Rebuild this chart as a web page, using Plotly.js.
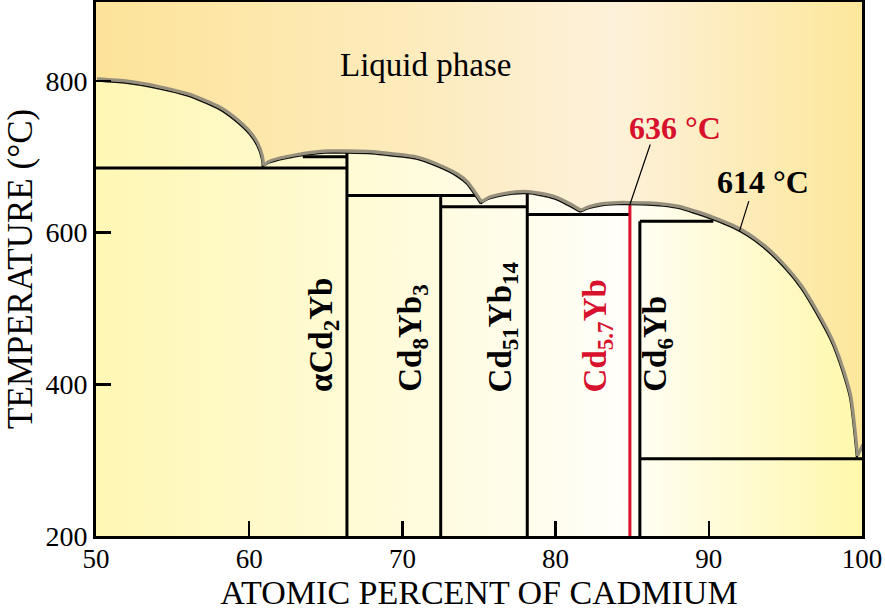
<!DOCTYPE html>
<html>
<head>
<meta charset="utf-8">
<script src="https://cdn.plot.ly/plotly-3.0.1.min.js"></script>
<style>html,body{margin:0;padding:0;background:#fff;}#chart{width:885px;height:611px;}</style>
</head>
<body>
<div id="chart"></div>
<script>
// ---------- data ----------
const xTicks = [50, 60, 70, 80, 90, 100];
const yTicks = [200, 400, 600, 800];
const xRange = [50, 100];
const yRange = [200, 904];

// liquidus curve (atomic % Cd, temperature °C)
const liqX = [50, 52, 54, 56, 58, 59, 60, 60.5, 60.8, 60.87, 61.2, 62, 63, 64, 65, 66.38,
              68, 69.2, 70.9, 72.4, 73.5, 74.2, 74.6, 75.1,
              75.6, 76.5, 77.3, 78.15, 79, 80, 80.8, 81.25, 81.6,
              82.2, 83, 84, 84.85, 86, 87, 88, 89, 90.3, 91.5, 92.5, 93.7, 95, 96, 97, 98, 98.7, 99.2, 99.65, 100];
const liqT = [800, 797, 790, 780, 763, 749, 730, 715, 698, 686, 691, 696, 700, 703, 705, 705,
              704, 701.5, 697, 686, 675, 664, 653, 638,
              644, 648.5, 651, 651.5, 649, 644, 636, 631, 627,
              632, 635.5, 637, 637, 636.5, 635, 632, 626, 617, 607, 596, 578, 552, 527, 494, 456, 418, 382, 303, 318];

// compounds (vertical lines): composition and top temperature
const compoundNames = ['αCd<sub>2</sub>Yb', 'Cd<sub>8</sub>Yb<sub>3</sub>', 'Cd<sub>51</sub>Yb<sub>14</sub>', 'Cd<sub>5.7</sub>Yb', 'Cd<sub>6</sub>Yb'];
const compoundX = [66.38, 72.5, 78.15, 84.85, 85.5];
const compoundTop = [705, 649, 651.5, 637, 615];
const compoundHighlight = [false, false, false, true, false];

// horizontal isotherms
const isoT  = [685, 700, 649, 634, 624, 615, 302];
const isoX0 = [50, 63.5, 66.38, 72.5, 78.15, 85.5, 85.5];
const isoX1 = [66.38, 66.38, 74.75, 78.15, 84.85, 90.3, 100];

// callouts
const calloutText = ['636 °C', '614 °C'];
const calloutX = [84.85, 92.0];
const calloutT = [637, 602];

// ---------- styling / layout ----------
const FONT = 'Liberation Serif, Times New Roman, serif';
const RED = '#d8112d';
const M = {l: 96, r: 23, t: 2, b: 75};
const plotW = 885 - M.l - M.r, plotH = 611 - M.t - M.b;
const pxPerX = plotW / (xRange[1] - xRange[0]);
const pxPerY = plotH / (yRange[1] - yRange[0]);
const shadowDx = 1.0, shadowDy = 2.0;

// split the liquidus into domes at the eutectic minima so cusps stay sharp
const segX = [], segT = [];
liqX.forEach((x, i) => {
  segX.push(x); segT.push(liqT[i]);
  const isMin = i > 0 && i < liqX.length - 1 && liqT[i] < liqT[i - 1] && liqT[i] < liqT[i + 1];
  if (isMin) { segX.push(null, x); segT.push(null, liqT[i]); }
});

const traces = [];
// liquid background
traces.push({
  x: xRange, y: [yRange[1], yRange[1]], mode: 'none', fill: 'tozeroy',
  fillgradient: {type: 'horizontal', start: xRange[0], stop: xRange[1],
    colorscale: [[0, '#fde399'], [0.4, '#fdebbb'], [0.68, '#fdf1da'], [1, '#fde79b']]},
  hoverinfo: 'skip', showlegend: false
});
// solid region under liquidus
traces.push({
  x: liqX, y: liqT, mode: 'none', fill: 'tozeroy',
  fillgradient: {type: 'horizontal', start: xRange[0], stop: xRange[1],
    colorscale: [[0, '#fff7b4'], [0.35, '#fffbd6'], [0.68, '#fffef8'], [1, '#fff8ac']]},
  hoverinfo: 'skip', showlegend: false
});
// liquidus shadow (drawn on offset overlay axes)
traces.push({
  x: segX, y: segT, mode: 'lines', xaxis: 'x2', yaxis: 'y2', connectgaps: false,
  line: {color: '#958f7c', width: 3.2, shape: 'spline', smoothing: 0.7},
  hoverinfo: 'skip', showlegend: false
});
// isotherms
const hx = [], hy = [];
isoT.forEach((t, i) => { hx.push(isoX0[i], isoX1[i], null); hy.push(t, t, null); });
traces.push({x: hx, y: hy, mode: 'lines', line: {color: '#000', width: 3}, hoverinfo: 'skip', showlegend: false});
// compound verticals
compoundX.forEach((cx, i) => {
  traces.push({
    x: [cx, cx], y: [yRange[0], compoundTop[i]], mode: 'lines',
    line: {color: compoundHighlight[i] ? RED : '#000', width: 3},
    hoverinfo: 'skip', showlegend: false
  });
});
// liquidus line
traces.push({
  x: segX, y: segT, mode: 'lines', connectgaps: false,
  line: {color: '#111', width: 1.6, shape: 'spline', smoothing: 0.7},
  hoverinfo: 'skip', showlegend: false
});

// annotations
const labelX = [64.8, 70.7, 76.55, 82.75, 86.66];
const labelBottom = 387;
const annotations = compoundNames.map((name, i) => ({
  x: labelX[i], y: labelBottom, xref: 'x', yref: 'y', text: '<b>' + name + '</b>',
  textangle: -90, showarrow: false, xanchor: 'center', yanchor: 'bottom',
  font: {family: FONT, size: 33, color: compoundHighlight[i] ? RED : '#000'}
}));
annotations.push({
  x: 71.5, y: 821, xref: 'x', yref: 'y', text: 'Liquid phase', showarrow: false,
  font: {family: FONT, size: 33, color: '#000'}
});
const calloutPos = [[87.8, 738], [93.55, 667]];
const calloutTail = [[21, -62], [10, -32]];
calloutText.forEach((t, i) => {
  annotations.push({
    x: calloutPos[i][0], y: calloutPos[i][1], xref: 'x', yref: 'y', text: '<b>' + t + '</b>',
    showarrow: false, font: {family: FONT, size: 32, color: i === 0 ? RED : '#000'}
  });
  annotations.push({
    x: calloutX[i], y: calloutT[i], xref: 'x', yref: 'y', text: ' ', font: {size: 1},
    showarrow: true, arrowhead: 0, arrowwidth: 1.2, arrowcolor: '#000', standoff: 0,
    ax: calloutTail[i][0], ay: calloutTail[i][1]
  });
});

const axisCommon = {
  ticks: 'inside', ticklen: 15, tickwidth: 2.5, tickcolor: '#000',
  showline: true, linewidth: 3, linecolor: '#000', mirror: true,
  showgrid: false, zeroline: false,
  tickfont: {family: FONT, size: 28, color: '#000'}
};

const layout = {
  width: 885, height: 611, margin: M,
  paper_bgcolor: '#fff', plot_bgcolor: '#fff',
  font: {family: FONT, color: '#000'},
  xaxis: Object.assign({}, axisCommon, {
    range: xRange, tickvals: xTicks, ticktext: xTicks.map(String),
    tickfont: {family: FONT, size: 27, color: '#000'}, ticklabelstandoff: -3,
    title: {text: 'ATOMIC PERCENT OF CADMIUM', font: {family: FONT, size: 34, color: '#000'}}
  }),
  yaxis: Object.assign({}, axisCommon, {
    range: yRange, tickvals: yTicks, ticktext: yTicks.map(String),
    title: {text: 'TEMPERATURE (°C)', font: {family: FONT, size: 35, color: '#000'}, standoff: 3}
  }),
  xaxis2: {overlaying: 'x', visible: false, range: [xRange[0] - shadowDx / pxPerX, xRange[1] - shadowDx / pxPerX]},
  yaxis2: {overlaying: 'y', visible: false, range: [yRange[0] - shadowDy / pxPerY, yRange[1] - shadowDy / pxPerY]},
  annotations: annotations,
  showlegend: false
};

Plotly.newPlot('chart', traces, layout, {staticPlot: true, displayModeBar: false});
</script>
</body>
</html>
